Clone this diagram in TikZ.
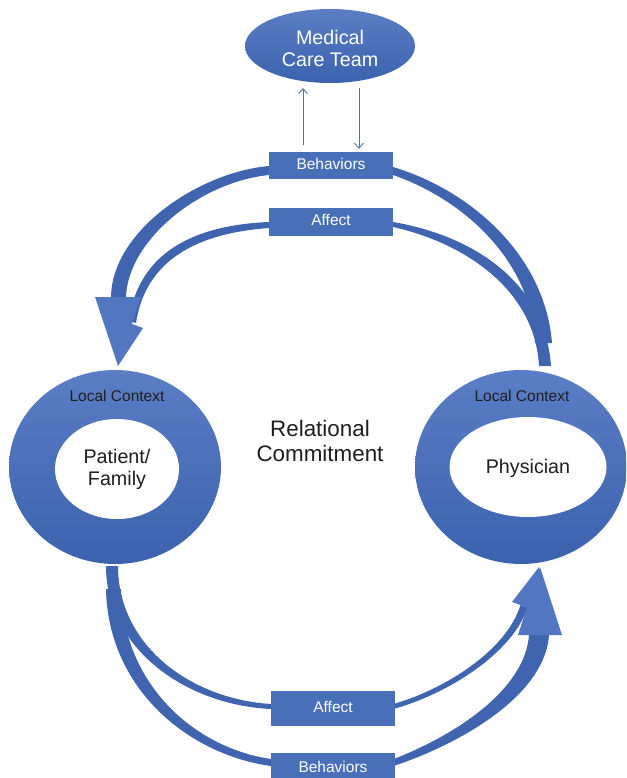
\documentclass[tikz,border=0pt]{standalone}
\usepackage{fontspec}
\setmainfont{Liberation Sans}
\usetikzlibrary{shapes.geometric,arrows.meta,calc}
\definecolor{boxblue}{HTML}{4870B9}
\definecolor{arrblue}{HTML}{3F65B1}
\definecolor{headblue}{HTML}{5077BF}
\definecolor{ringtop}{HTML}{5A7EC5}
\definecolor{ringbot}{HTML}{3A62AE}
\definecolor{txt}{HTML}{1E1E1E}
\tikzset{
  lbox/.style={fill=boxblue, text=white, font=\fontsize{15.5}{18}\selectfont,
    minimum width=124pt, inner sep=0pt, text height=11pt, text depth=4pt},
  ringnode/.style={ellipse, inner sep=0pt, top color=ringtop, bottom color=ringbot, draw=none},
  holenode/.style={ellipse, inner sep=0pt, fill=white, text=txt, align=center,
    font=\fontsize{19.7}{22}\selectfont},
  ctx/.style={text=txt, font=\fontsize{15.5}{18}\selectfont},
  shaft/.style={fill=arrblue},
  ahead/.style={fill=headblue},
  thinarr/.style={draw=boxblue, line width=0.9pt, -{Straight Barb[length=5pt,width=9pt]}}
}
\begin{document}
\begin{tikzpicture}[x=1pt,y=-1pt]
\useasboundingbox (0,0) rectangle (626,778);
\clip (0,0) rectangle (626,778);

% ---- top-left arrows (toward Patient/Family)
\fill[shaft] (269,222) .. controls (195,225) and (138,252) .. (129,321)
  -- (136,323) .. controls (146,258) and (200,233) .. (269,228) -- cycle;
\fill[ahead] (143,328) -- (118,366) -- (110,316) -- cycle;
\fill[shaft] (269,166) .. controls (200,172) and (112,230) .. (111,297)
  -- (126,297) .. controls (128,240) and (200,182) .. (269,175) -- cycle;
\fill[ahead] (95,297) -- (141,297) -- (118,366) -- cycle;

% ---- top-right shafts (from Physician)
\fill[shaft] (393,222) .. controls (470,235) and (545,280) .. (551,366)
  -- (539,366) .. controls (535,290) and (465,243) .. (393,227) -- cycle;
\fill[shaft] (393,167) .. controls (470,190) and (545,255) .. (552,343)
  -- (535,343) .. controls (532,262) and (465,200) .. (393,175) -- cycle;

% ---- bottom-left shafts (from Patient/Family)
\fill[shaft] (106,566) .. controls (106,648) and (185,705) .. (271,709)
  -- (271,704) .. controls (190,699) and (118,645) .. (118,566) -- cycle;
\fill[shaft] (106,589) .. controls (108,690) and (190,755) .. (271,766)
  -- (271,759) .. controls (195,748) and (123,685) .. (121,589) -- cycle;

% ---- bottom-right arrows (toward Physician)
\fill[shaft] (395,708.5) .. controls (444,695) and (512,655) .. (527.5,607.5)
  -- (520.5,605) .. controls (506,652) and (442,690) .. (395,703.5) -- cycle;
\fill[ahead] (512,602) -- (539,567) -- (537,611) -- cycle;
\fill[shaft] (395,765.5) .. controls (462,743) and (545,695) .. (549,635)
  -- (529,635) .. controls (525,690) and (455,735) .. (395,758.5) -- cycle;
\fill[ahead] (518,635) -- (562,635) -- (540,567) -- cycle;

% ---- nodes
\node[ellipse, inner sep=0pt, minimum width=170pt, minimum height=74pt,
  top color=ringtop, bottom color=ringbot, text=white, align=center,
  font=\fontsize{19.7}{22}\selectfont] (mct) at (330,46) {\rule{0pt}{20pt}Medical\\Care Team};

\node[lbox, minimum height=27pt] (bt) at (331,165.5) {Behaviors};
\node[lbox, minimum height=28pt] (at) at (331,222) {Affect};
\node[lbox, minimum height=35pt] (ab) at (333,708.5) {Affect};
\node[lbox, minimum height=31pt] (bb) at (333,768.5) {Behaviors};

\draw[thinarr] ($(bt.north)+(-28,-7)$) -- (303,88);
\draw[thinarr] (359,88) -- ($(bt.north)+(28,-3)$);

\node[ringnode, minimum width=212pt, minimum height=194pt] (pfring) at (115,467) {};
\node[holenode, minimum width=124pt, minimum height=100pt] (pf) at (117,469) {Patient/\\Family};
\node[ctx] (lc1) at (117,395.5) {Local Context};

\node[ringnode, minimum width=212pt, minimum height=194pt] (phring) at (521,467) {};
\node[holenode, minimum width=157pt, minimum height=100pt] (ph) at (528,467) {};
\node[text=txt, font=\fontsize{19.7}{22}\selectfont] (phl) at (528,468) {Physician};
\node[ctx] (lc2) at (522,395.5) {Local Context};

\node[text=txt, align=center, font=\fontsize{22.4}{25}\selectfont] (rc) at (320,440.5) {Relational\\Commitment};
\end{tikzpicture}
\end{document}
